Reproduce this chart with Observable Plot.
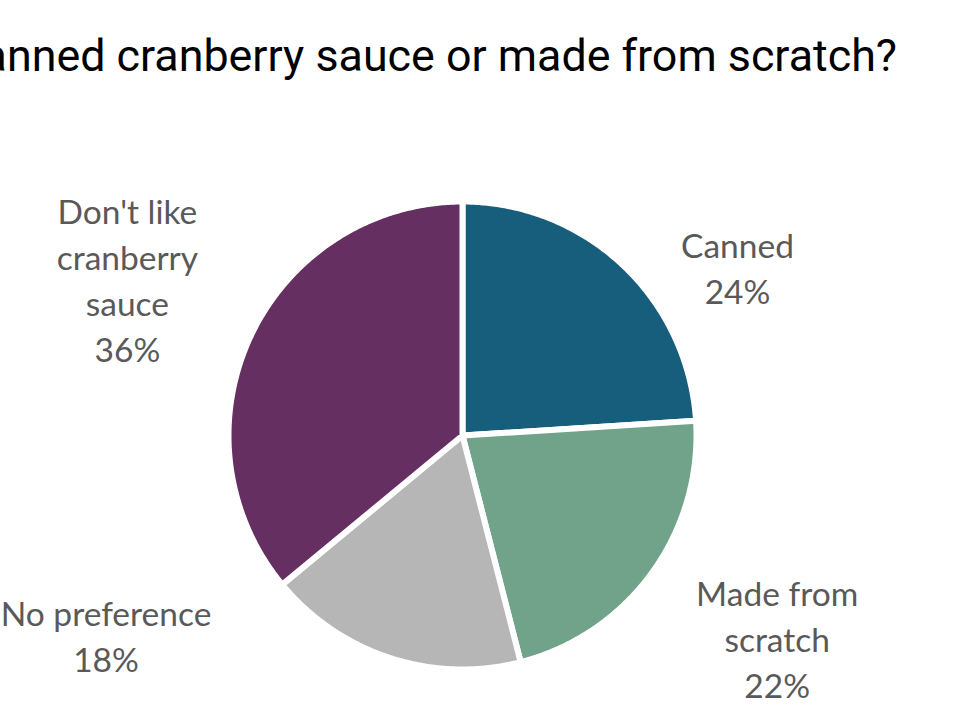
<!DOCTYPE html>
<html><head><meta charset="utf-8">
<script src="https://cdn.jsdelivr.net/npm/d3@7"></script>
<script src="https://cdn.jsdelivr.net/npm/@observablehq/plot@0.6"></script>
<style>
html,body{margin:0;padding:0;background:#fff;overflow:hidden}
#wrap{position:relative;width:980px;height:720px;overflow:hidden}
#title{position:absolute;right:83px;top:31px;font-family:Roboto,sans-serif;font-size:44.8px;line-height:50px;white-space:nowrap;color:#000}
#chart{position:absolute;left:0;top:0}
</style>
</head><body>
<div id="wrap"><div id="chart"></div><div id="title">Canned cranberry sauce or made from scratch?</div></div>
<script>
// Data
const categories = ["Canned", "Made from scratch", "No preference", "Don't like cranberry sauce"];
const shares = [24, 22, 18, 36];
const labelNames = ["Canned", "Made from\nscratch", "No preference", "Don't like\ncranberry\nsauce"];
const colors = ["#175d7c", "#70a389", "#b6b6b6", "#652f62"];

// Layout (label placement: angle from 12 o'clock in degrees, distance in pie radii)
const labelAngle = [59.0, 123.2, 240.4, 294.6];
const labelDist = [1.371, 1.607, 1.752, 1.575];

const pie = d3.pie().sort(null).value(d => d)(shares);
const pts = [];
pie.forEach((s, i) => {
  const cat = categories[i];
  pts.push({cat, x: 0, y: 0});
  const n = Math.max(2, Math.ceil((s.endAngle - s.startAngle) / (Math.PI / 360)));
  for (let k = 0; k <= n; k++) {
    const a = s.startAngle + (s.endAngle - s.startAngle) * k / n;
    pts.push({cat, x: Math.sin(a), y: Math.cos(a)});
  }
});
const labels = categories.map((c, i) => {
  const a = labelAngle[i] * Math.PI / 180;
  return {cat: c, x: labelDist[i] * Math.sin(a), y: labelDist[i] * Math.cos(a), text: labelNames[i] + "\n" + shares[i] + "%"};
});

const R = 234, cx = 462, cy = 435, W = 980, H = 720;
const chart = Plot.plot({
  width: W, height: H, margin: 0,
  style: {background: "white"},
  x: {domain: [-cx / R, (W - cx) / R], axis: null},
  y: {domain: [-(H - cy) / R, cy / R], axis: null},
  color: {domain: categories, range: colors},
  marks: [
    Plot.line(pts, {x: "x", y: "y", z: "cat", fill: "cat", stroke: "white", strokeWidth: 6, curve: "linear-closed"}),
    Plot.text(labels, {x: "x", y: "y", text: "text", fill: "#595959", fontSize: 33.5, fontFamily: "Lato", lineHeight: 1.37, lineAnchor: "middle", dy: -4})
  ]
});
document.getElementById("chart").appendChild(chart);
</script>
</body></html>
